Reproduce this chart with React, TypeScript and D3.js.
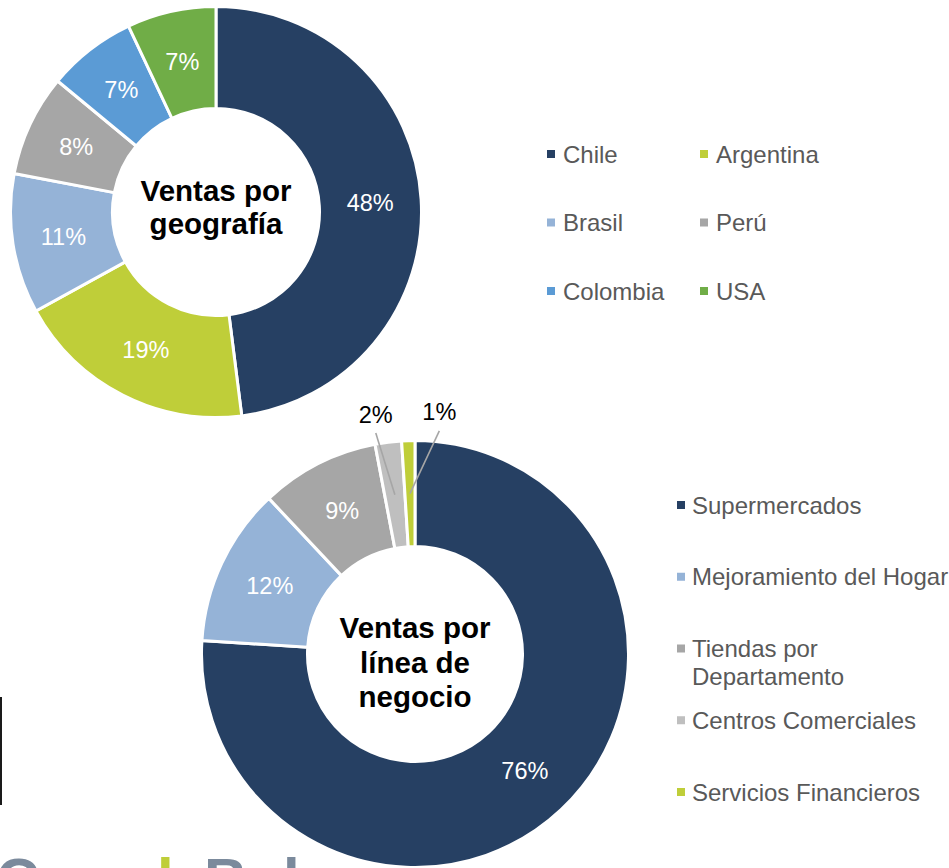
import React from "react";
import * as d3 from "d3";

// ---- Data ----
const geoCategories = ["Chile", "Argentina", "Brasil", "Perú", "Colombia", "USA"];
const geoValues = [48, 19, 11, 8, 7, 7];
const geoColors = ["#264063", "#BFCE39", "#95B3D7", "#A6A6A6", "#5B9BD5", "#70AD47"];
const geoTitle = ["Ventas por", "geografía"];

const bizCategories = [
  "Supermercados",
  "Mejoramiento del Hogar",
  "Tiendas por Departamento",
  "Centros Comerciales",
  "Servicios Financieros",
];
const bizLegendLines = [
  ["Supermercados"],
  ["Mejoramiento del Hogar"],
  ["Tiendas por", "Departamento"],
  ["Centros Comerciales"],
  ["Servicios Financieros"],
];
const bizValues = [76, 12, 9, 2, 1];
const bizColors = ["#264063", "#95B3D7", "#A6A6A6", "#BFBFBF", "#BFCE39"];
const bizTitle = ["Ventas por", "línea de", "negocio"];
// callout (outside) labels for thin slices: angular shift of label anchor, radians
const bizCallout = [null, null, null, -0.05, 0.14];

const FONT = "'Liberation Sans', Arial, Helvetica, sans-serif";

function Donut({ cx, cy, outer, inner, values, colors, title, titleLine, titleShift, callouts }: any) {
  const pie = d3.pie<number>().sort(null).value((d) => d).startAngle(0).endAngle(2 * Math.PI);
  const arcs = pie(values);
  const arc = d3.arc<any>().outerRadius(outer).innerRadius(inner);
  const total = d3.sum(values);
  const fmt = (v: number) => `${Math.round((v / total) * 100)}%`;
  const midR = (outer + inner) / 2;
  const n = title.length;
  return (
    <g transform={`translate(${cx},${cy})`}>
      {arcs.map((a: any, i: number) => (
        <path key={i} d={arc(a) as string} fill={colors[i]} stroke="#ffffff" strokeWidth={3} strokeLinejoin="miter" />
      ))}
      {arcs.map((a: any, i: number) => {
        const mid = (a.startAngle + a.endAngle) / 2;
        const co = callouts ? callouts[i] : null;
        if (co === null || co === undefined) {
          const [x, y] = arc.centroid(a);
          return (
            <text key={"l" + i} x={x} y={y} dy="0.36em" textAnchor="middle" fill="#ffffff" fontSize={23.5} fontFamily={FONT}>
              {fmt(a.data)}
            </text>
          );
        }
        const r0 = midR;
        const x0 = r0 * Math.sin(mid);
        const y0 = -r0 * Math.cos(mid);
        const la = mid + co;
        const r1 = outer + 11;
        const x1 = r1 * Math.sin(la);
        const y1 = -r1 * Math.cos(la);
        const ty = -(outer + 30) * Math.cos(la);
        return (
          <g key={"c" + i}>
            <line x1={x0} y1={y0} x2={x1} y2={y1} stroke="#A6A6A6" strokeWidth={1.6} />
            <text x={x1} y={ty} dy="0.36em" textAnchor="middle" fill="#000000" fontSize={23.5} fontFamily={FONT}>
              {fmt(a.data)}
            </text>
          </g>
        );
      })}
      {title.map((t: string, i: number) => (
        <text
          key={"t" + i}
          x={0}
          y={(i - (n - 1) / 2) * titleLine + titleShift}
          dy="0.36em"
          textAnchor="middle"
          fill="#000000"
          fontWeight="bold"
          fontSize={29.5}
          fontFamily={FONT}
        >
          {t}
        </text>
      ))}
    </g>
  );
}

export default function App() {
  const W = 949;
  const H = 868;

  // top legend layout
  const geoLegendX = d3.scaleOrdinal<number, number>().domain([0, 1]).range([547, 700]);
  const geoLegendY = d3.scaleLinear().domain([0, 2]).range([154, 291]);

  const bizLegendY = d3.scaleLinear().domain([0, 4]).range([505, 792]);

  return (
    <svg
      width={W}
      height={H}
      viewBox={`0 0 ${W} ${H}`}
      style={{ position: "absolute", left: 0, top: 0, background: "#ffffff" }}
    >
      <rect x={0} y={0} width={W} height={H} fill="#ffffff" />

      {/* left edge artifact */}
      <rect x={0} y={697} width={2} height={108} fill="#1a1a1a" />

      {/* partial logo text at the bottom */}
      <g fontFamily={FONT} fontWeight="bold" fontSize={60}>
        <text x={-4} y={900} fill="#7B8A9C">C</text>
        <text x={157} y={900} fill="#BFCE39">l</text>
        <text x={204} y={900} fill="#7B8A9C">B</text>
        <text x={283} y={900} fill="#7B8A9C">l</text>
      </g>

      <Donut
        cx={216}
        cy={212}
        outer={205.5}
        inner={103.5}
        values={geoValues}
        colors={geoColors}
        title={geoTitle}
        titleLine={33}
        titleShift={-5.5}
      />
      <Donut
        cx={415}
        cy={654}
        outer={213.5}
        inner={107.5}
        values={bizValues}
        colors={bizColors}
        title={bizTitle}
        titleLine={34.5}
        titleShift={8}
        callouts={bizCallout}
      />

      {/* geography legend */}
      {geoCategories.map((c, i) => {
        const col = i % 2;
        const row = Math.floor(i / 2);
        const x = geoLegendX(col);
        const y = geoLegendY(row);
        return (
          <g key={c}>
            <rect x={x} y={y - 4} width={8} height={8} fill={geoColors[i]} />
            <text x={x + 16} y={y} dy="0.36em" fill="#595959" fontSize={24} fontFamily={FONT}>
              {c}
            </text>
          </g>
        );
      })}

      {/* business legend */}
      {bizCategories.map((c, i) => {
        const y = bizLegendY(i);
        return (
          <g key={c}>
            <rect x={677} y={y - 4} width={8} height={8} fill={bizColors[i]} />
            {bizLegendLines[i].map((ln, j) => (
              <text key={j} x={692} y={y + j * 28} dy="0.36em" fill="#595959" fontSize={24} fontFamily={FONT}>
                {ln}
              </text>
            ))}
          </g>
        );
      })}
    </svg>
  );
}
